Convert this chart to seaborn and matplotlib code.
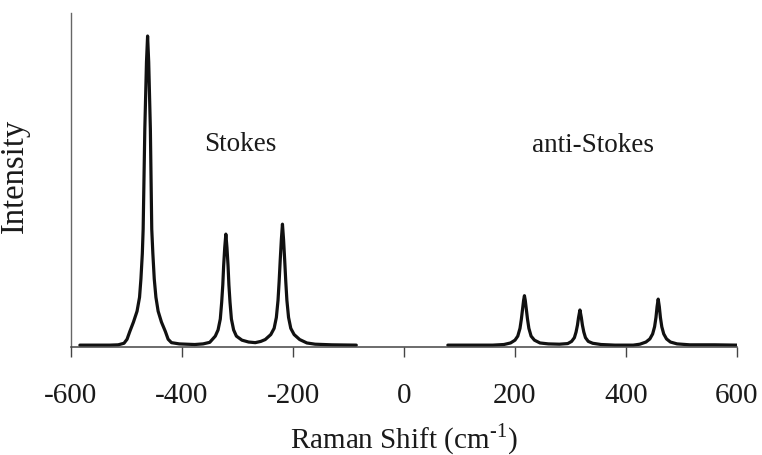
import matplotlib
matplotlib.use("Agg")
import matplotlib.pyplot as plt
import seaborn as sns
import pandas as pd

# Stokes branch of the Raman spectrum (shift in cm^-1, relative intensity)
stokes_shift = [-584, -530, -515, -504.5, -499, -494, -487.5, -481, -476.5, -474, -471.5,
                -470, -467, -464, -462, -460, -457, -454.5, -452.5, -450, -447, -443,
                -437, -430, -425, -419, -405, -392, -377, -362,
                -350, -340, -335, -331, -328.5, -326.5, -325, -323, -321, -319, -317,
                -315.5, -313.5, -311, -307, -302, -292, -280, -268, -258,
                -250, -240, -234, -230, -227, -225, -223, -221, -219, -217, -215,
                -213, -211, -208, -204, -198, -188, -175, -160, -130, -86]
stokes_intensity = [0.006, 0.006, 0.007, 0.012, 0.025, 0.050, 0.080, 0.115, 0.160, 0.219, 0.300,
                    0.379, 0.701, 0.916, 1.000, 0.916, 0.701, 0.379, 0.300, 0.219, 0.160, 0.115,
                    0.080, 0.050, 0.025, 0.014, 0.010, 0.009, 0.008, 0.010,
                    0.015, 0.035, 0.055, 0.090, 0.144, 0.200, 0.260, 0.320, 0.363, 0.320, 0.260,
                    0.200, 0.144, 0.090, 0.055, 0.035, 0.022, 0.016, 0.014, 0.018,
                    0.024, 0.040, 0.060, 0.095, 0.150, 0.210, 0.280, 0.345, 0.395, 0.345, 0.280,
                    0.210, 0.150, 0.095, 0.060, 0.040, 0.024, 0.013, 0.009, 0.007, 0.006]

# anti-Stokes branch
anti_shift = [79, 120, 160, 180, 192, 200, 205, 209, 211.5, 213.5, 215.5, 217, 218.5,
              220.5, 222.5, 225, 229, 235, 245, 260, 280,
              295, 302, 307, 310, 312.5, 314.5, 317, 319.5, 321.5, 324, 327, 332, 340,
              355, 380, 413,
              425, 436, 443, 448, 451.5, 454, 456, 458, 460, 462, 464.5, 468, 473, 480,
              492, 515, 560, 600]
anti_intensity = [0.006, 0.006, 0.006, 0.008, 0.013, 0.022, 0.035, 0.060, 0.090, 0.120, 0.150, 0.165, 0.150,
                  0.120, 0.090, 0.060, 0.035, 0.022, 0.013, 0.010, 0.009,
                  0.011, 0.018, 0.030, 0.048, 0.070, 0.095, 0.119, 0.095, 0.070, 0.048, 0.030, 0.018, 0.012,
                  0.008, 0.006, 0.006,
                  0.009, 0.016, 0.026, 0.042, 0.065, 0.095, 0.130, 0.154, 0.130, 0.095, 0.065, 0.042, 0.026, 0.016,
                  0.010, 0.007, 0.007, 0.006]

x_ticks = [-600, -400, -200, 0, 200, 400, 600]
x_tick_labels = ["-600", "-400", "-200", "0", "200", "400", "600"]

sns.set_theme(style="white")
plt.rcParams["font.family"] = ["Liberation Serif", "DejaVu Serif"]
plt.rcParams["mathtext.fontset"] = "custom"
plt.rcParams["mathtext.rm"] = "Liberation Serif"
plt.rcParams["axes.unicode_minus"] = False

stokes = pd.DataFrame({"shift": stokes_shift, "intensity": stokes_intensity})
anti = pd.DataFrame({"shift": anti_shift, "intensity": anti_intensity})

fig = plt.figure(figsize=(7.62, 4.56), dpi=100)
ax = fig.add_axes([71 / 762, 108 / 456, 666 / 762, 334.5 / 456])

line_kw = dict(color="#111111", linewidth=2.3, estimator=None, sort=False)
sns.lineplot(data=stokes, x="shift", y="intensity", ax=ax, **line_kw)
sns.lineplot(data=anti, x="shift", y="intensity", ax=ax, **line_kw)

ax.set_xlim(-600, 600)
ax.set_ylim(0, 1.0756)
ax.set_xticks(x_ticks)
ax.set_xticklabels(x_tick_labels)
ax.set_yticks([])

for side in ("top", "right"):
    ax.spines[side].set_visible(False)
ax.spines["left"].set_color("#666666")
ax.spines["left"].set_linewidth(1.0)
ax.spines["bottom"].set_color("#444444")
ax.spines["bottom"].set_linewidth(1.1)

ax.tick_params(axis="x", direction="out", length=7, width=1.0, color="#444444",
               pad=18, labelsize=21, labelcolor="#1a1a1a", bottom=True)

ax.set_xlabel(r"Raman Shift (cm$^{\text{-1}}$)", fontsize=21,
              color="#1a1a1a", labelpad=9)
ax.set_ylabel("Intensity", fontsize=23.5, color="#1a1a1a")
ax.yaxis.set_label_coords(-0.0623, 0.516)

ax.text(-295, 0.635, "Stokes", fontsize=19.5, ha="center", va="baseline", color="#1a1a1a")
ax.text(340, 0.631, "anti-Stokes", fontsize=19.5, ha="center", va="baseline", color="#1a1a1a")

fig.savefig("out.png", dpi=100)
